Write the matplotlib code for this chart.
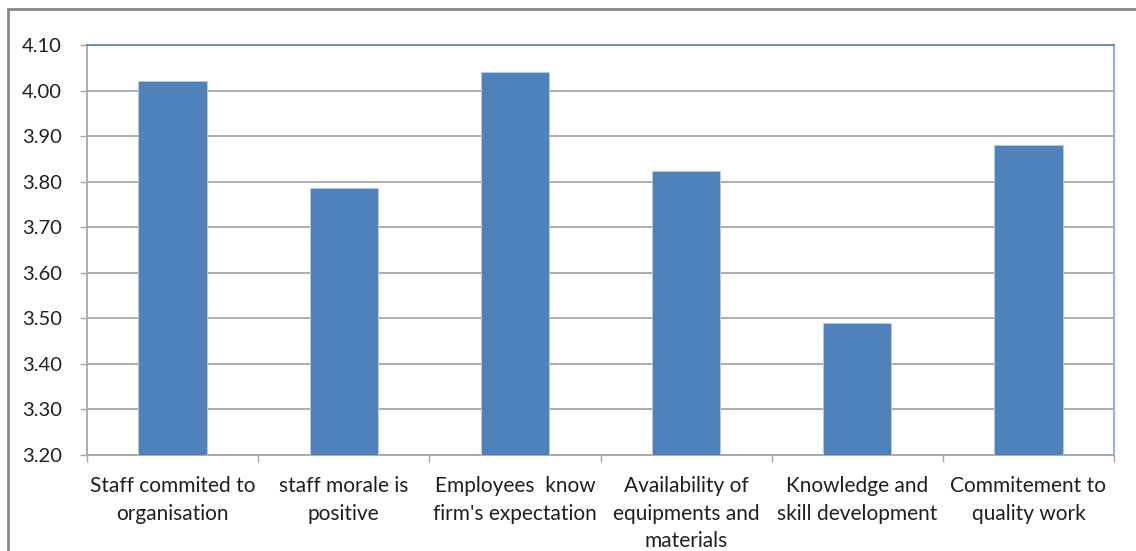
import matplotlib.pyplot as plt
from matplotlib.patches import Rectangle
import numpy as np

# mean scores per item
categories = ["Staff commited to\norganisation",
              "staff morale is\npositive",
              "Employees  know\nfirm's expectation",
              "Availability of\nequipments and\nmaterials",
              "Knowledge and\nskill development",
              "Commitement to\nquality work"]
scores = [4.02, 3.785, 4.04, 3.823, 3.49, 3.88]
yticks = [3.20, 3.30, 3.40, 3.50, 3.60, 3.70, 3.80, 3.90, 4.00, 4.10]

BLUE = "#4F81BD"
GRID = "#A6A6A6"
TEXT = "#1F1F1F"


def main():
    plt.rcParams['font.family'] = ['Lato', 'DejaVu Sans']
    fig = plt.figure(figsize=(11.36, 5.51), dpi=100)
    ax = fig.add_axes([87 / 1136, 1 - 455 / 551, (1114 - 87) / 1136, (455 - 45) / 551])

    x = np.arange(len(categories))
    ax.bar(x, scores, width=0.4, color=BLUE, edgecolor="#B8CCE4",
           linewidth=0.6, zorder=3)

    ax.set_xlim(-0.5, len(categories) - 0.5)
    ax.set_ylim(yticks[0], yticks[-1])
    ax.set_yticks(yticks)
    ax.set_yticklabels(["%.2f" % v for v in yticks])
    ax.yaxis.grid(True, color=GRID, linewidth=1.3, zorder=0)

    # category ticks sit between the bars
    ax.set_xticks(np.arange(len(categories) + 1) - 0.5)
    ax.set_xticklabels([])
    ax.set_xticks(x, minor=True)
    ax.set_xticklabels(categories, minor=True, fontsize=15, color=TEXT,
                       linespacing=1.48, va='top')
    ax.tick_params(axis='x', which='minor', length=0, pad=15)
    ax.tick_params(axis='x', which='major', length=5, width=1, color=GRID)
    ax.tick_params(axis='y', length=5, width=1, color=GRID, pad=13,
                   labelsize=14.5, labelcolor=TEXT)

    ax.spines['left'].set_color(GRID)
    ax.spines['bottom'].set_color(GRID)
    ax.spines['left'].set_linewidth(1.3)
    ax.spines['bottom'].set_linewidth(1.3)
    ax.spines['top'].set_color(BLUE)
    ax.spines['right'].set_color("#8DB4E2")
    ax.spines['top'].set_linewidth(1.2)
    ax.spines['right'].set_linewidth(1.5)

    # chart border
    fig.patches.append(Rectangle((8 / 1136, -0.1), 1.2, 1 - 9 / 551 + 0.1,
                                 transform=fig.transFigure, fill=False,
                                 edgecolor="#878787", linewidth=2))

    fig.savefig("out.png", dpi=100)


if __name__ == "__main__":
    main()
